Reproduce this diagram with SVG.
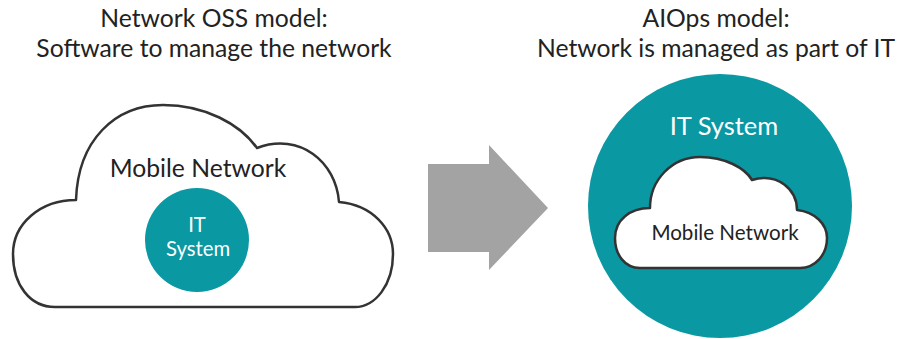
<svg xmlns="http://www.w3.org/2000/svg" width="901" height="339" viewBox="0 0 901 339">
  <style>
    .title { font-family: Lato, "Open Sans", sans-serif; font-size: 24.7px; fill: #222; text-anchor: middle; }
    .dark { font-family: Lato, "Open Sans", sans-serif; fill: #222; text-anchor: middle; }
    .light { font-family: Lato, "Open Sans", sans-serif; fill: #fff; text-anchor: middle; }
    .cloud { fill: #fff; stroke: #333; stroke-width: 2.5; stroke-linejoin: round; }
    .teal { fill: #0a98a3; }
    .arrow { fill: #a3a3a3; }
  </style>

  <!-- headings -->
  <g id="title-left">
    <text class="title" x="214" y="27">Network OSS model:</text>
    <text class="title" x="214" y="57">Software to manage the network</text>
  </g>
  <g id="title-right">
    <text class="title" x="716" y="27">AIOps model:</text>
    <text class="title" x="716" y="57">Network is managed as part of IT</text>
  </g>

  <!-- left: IT inside the mobile network -->
  <g id="mobile-network-left">
    <path class="cloud" d="M 55,307 C 30,307 13,285 13,254 C 13,224 40,200 76,200 C 78,140 115,105 163,105 C 205,105 240,124 257,148 C 300,132 336,162 339,202 C 372,205 393,228 393,254 C 393,285 375,307 355,307 Z"/>
    <text class="dark" x="198" y="177" font-size="24.7">Mobile Network</text>
  </g>
  <g id="it-system-left">
    <circle class="teal" cx="197" cy="240" r="52"/>
    <text class="light" x="197" y="232" font-size="20.3">IT</text>
    <text class="light" x="198" y="256" font-size="20.3">System</text>
  </g>

  <!-- transition arrow -->
  <g id="connectors">
    <polygon class="arrow" points="428,164 489,164 489,145 548,208 489,270 489,252 428,252"/>
  </g>

  <!-- right: the network managed as part of IT -->
  <g id="it-system-right">
    <circle class="teal" cx="720" cy="206" r="132"/>
    <text class="light" x="724" y="135" font-size="25.5">IT System</text>
  </g>
  <g id="mobile-network-right">
    <path class="cloud" stroke-width="2" d="M 640,268 C 625,268 615,255 615,238 C 615,220 630,208 650,208 C 650,180 672,157 700,157 C 725,157 745,168 752,180 C 778,172 797,190 797,210 C 815,212 827,224 827,238 C 827,255 815,268 800,268 Z"/>
    <text class="dark" x="725" y="240" font-size="20.6">Mobile Network</text>
  </g>
</svg>
